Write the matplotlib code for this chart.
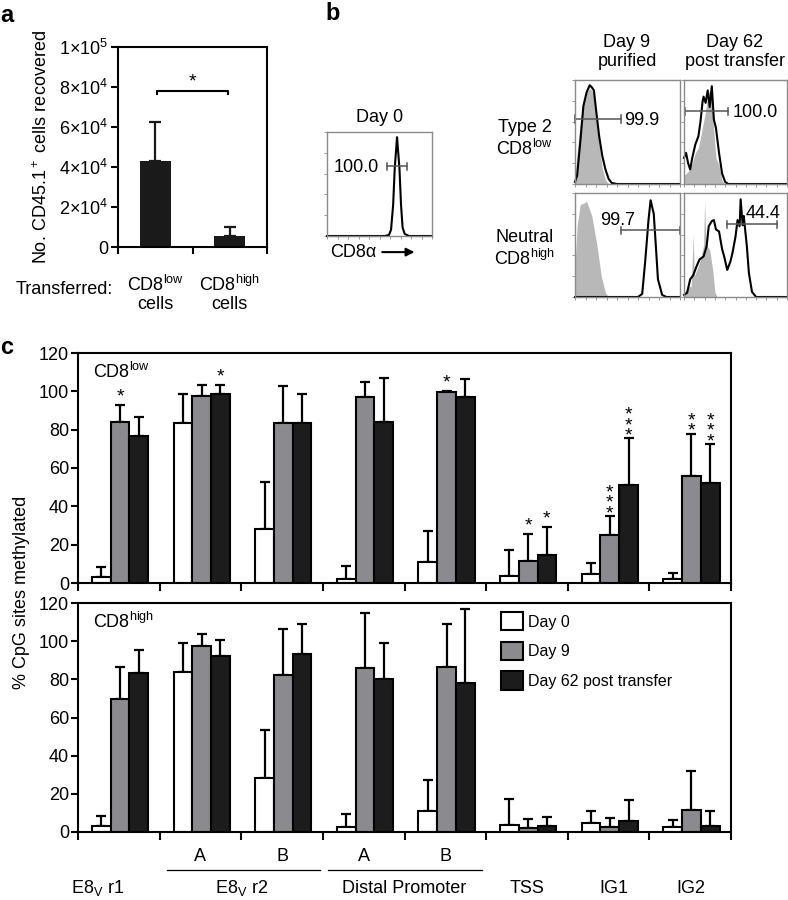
import numpy as np
import matplotlib
matplotlib.use('Agg')
import matplotlib.pyplot as plt

plt.rcParams['font.family'] = ['Liberation Sans', 'DejaVu Sans']
plt.rcParams['mathtext.default'] = 'regular'
plt.rcParams['font.size'] = 12.5

W, H = 788, 900

# ---- panel a data ----
transferred = ['CD8$^{low}$\ncells', 'CD8$^{high}$\ncells']
recovered = [43000, 5500]
recovered_sd = [19500, 4500]
a_ticks = [0, 2e4, 4e4, 6e4, 8e4, 1e5]
a_ticklabels = ['0', '2×10$^4$', '4×10$^4$', '6×10$^4$', '8×10$^4$', '1×10$^5$']

# ---- panel b data (fraction of max events vs CD8a fluorescence, log scale 0-1) ----
day0_x = [0.0, 0.55, 0.59, 0.61, 0.63, 0.645, 0.667, 0.69, 0.705, 0.72, 0.74, 0.78, 1.0]
day0_y = [0.0, 0.0, 0.01, 0.06, 0.3, 0.65, 0.95, 0.65, 0.3, 0.08, 0.02, 0.0, 0.0]

d9low_x = [0, 0.02, 0.05, 0.08, 0.11, 0.14, 0.16, 0.18, 0.2, 0.23, 0.26, 0.29, 0.32, 0.35, 0.4, 1.0]
d9low_black = [0.02, 0.08, 0.4, 0.75, 0.88, 0.95, 0.93, 0.9, 0.72, 0.46, 0.27, 0.14, 0.05, 0.01, 0, 0]
d9low_grey = [0.05, 0.3, 0.6, 0.8, 0.88, 0.92, 0.9, 0.85, 0.65, 0.38, 0.15, 0.04, 0, 0, 0, 0]

d62low_x = [0, 0.02, 0.04, 0.06, 0.08, 0.11, 0.14, 0.16, 0.18, 0.19, 0.21, 0.23, 0.25, 0.27,
            0.29, 0.31, 0.34, 0.37, 0.4, 0.43, 1.0]
d62low_black = [0.25, 0.3, 0.2, 0.14, 0.25, 0.38, 0.46, 0.6, 0.79, 0.84, 0.78, 0.9, 0.74, 0.94,
                0.62, 0.54, 0.3, 0.1, 0.02, 0, 0]
d62low_grey = [0.08, 0.1, 0.12, 0.15, 0.2, 0.3, 0.35, 0.45, 0.55, 0.6, 0.7, 0.85, 0.9, 0.8,
               0.5, 0.25, 0.18, 0.03, 0, 0, 0]

d9high_x = [0, 0.02, 0.05, 0.08, 0.11, 0.16, 0.21, 0.25, 0.29, 0.32, 0.6, 0.64, 0.67, 0.7,
            0.72, 0.75, 0.77, 0.79, 0.83, 0.87, 1.0]
d9high_grey = [0.3, 0.68, 0.89, 0.9, 0.92, 0.78, 0.49, 0.2, 0.04, 0, 0, 0, 0, 0,
               0, 0, 0, 0, 0, 0, 0]
d9high_black = [0, 0, 0, 0, 0, 0, 0, 0, 0, 0, 0, 0.03, 0.36, 0.74,
                0.93, 0.8, 0.49, 0.17, 0.02, 0, 0]

d62high_bx = [0, 0.03, 0.06, 0.09, 0.12, 0.15, 0.19, 0.22, 0.24, 0.27, 0.29, 0.31, 0.34, 0.37,
              0.39, 0.42, 0.45, 0.47, 0.5, 0.52, 0.54, 0.55, 0.57, 0.58, 0.61, 0.63, 0.66, 0.7, 1.0]
d62high_black = [0.02, 0.04, 0.17, 0.21, 0.29, 0.36, 0.39, 0.49, 0.68, 0.73, 0.74, 0.65, 0.63, 0.46,
                 0.39, 0.26, 0.34, 0.42, 0.58, 0.74, 0.68, 0.94, 0.69, 0.78, 0.49, 0.23, 0.05, 0, 0]
d62high_gx = [0, 0.03, 0.07, 0.09, 0.1, 0.14, 0.17, 0.19, 0.2, 0.21, 0.22, 0.25, 0.28, 0.3, 0.32, 1.0]
d62high_grey = [0.02, 0.1, 0.1, 0.6, 0.2, 0.3, 0.4, 0.5, 0.92, 0.6, 0.5, 0.45, 0.25, 0.05, 0, 0]

# ---- panel c data ----
regions = ['E8$_V$ r1', 'A', 'B', 'A', 'B', 'TSS', 'IG1', 'IG2']
days = ['Day 0', 'Day 9', 'Day 62 post transfer']
low_mean = [[3.3, 83.3, 28.0, 1.9, 11.1, 3.7, 4.7, 1.9],
            [84.0, 97.7, 83.3, 97.2, 99.8, 11.7, 25.0, 55.8],
            [76.7, 98.4, 83.3, 84.0, 97.2, 14.6, 51.1, 52.0]]
low_sd = [[4.9, 15.3, 24.9, 7.1, 16.2, 13.5, 5.9, 3.5],
          [8.7, 5.6, 19.5, 7.8, 0.5, 13.9, 10.0, 22.2],
          [10.1, 4.9, 15.1, 22.8, 9.2, 14.8, 24.4, 20.5]]
high_mean = [[3.1, 84.0, 28.1, 2.4, 11.2, 3.7, 4.9, 2.4],
             [69.5, 97.6, 82.3, 85.8, 86.3, 1.9, 2.4, 11.5],
             [83.2, 92.2, 93.1, 80.0, 78.3, 3.1, 5.9, 3.1]]
high_sd = [[5.3, 15.3, 25.4, 7.0, 16.1, 13.4, 6.1, 3.9],
           [16.8, 6.4, 23.9, 29.2, 22.5, 4.9, 4.8, 20.5],
           [12.2, 8.4, 15.9, 18.9, 38.4, 4.9, 10.9, 7.9]]
# (region, series, number of stars)
low_stars = [(0, 1, 1), (1, 2, 1), (4, 1, 1), (5, 1, 1), (5, 2, 1),
             (6, 1, 3), (6, 2, 3), (7, 1, 2), (7, 2, 3)]

bar_colors = ['white', '#8b8b8f', '#1c1c1c']
offsets = [-0.215, 0.015, 0.245]
bar_w = 0.23

fig = plt.figure(figsize=(W / 100, H / 100), dpi=100)


def axbox(x0, y0, x1, y1):
    return fig.add_axes([x0 / W, 1 - y1 / H, (x1 - x0) / W, (y1 - y0) / H])


def ftext(x, y, s, **kw):
    return fig.text(x / W, 1 - y / H, s, **kw)


# ================= panel a =================
ax = axbox(118, 47, 267, 247)
xa = np.arange(len(recovered))
ax.bar(xa, recovered, width=0.42, color='#1a1a1a', zorder=2)
ax.errorbar(xa, recovered, yerr=[[0, 0], recovered_sd], fmt='none', ecolor='#1a1a1a',
            elinewidth=1.6, capsize=4.3, capthick=1.6, zorder=1)
ax.set_xlim(-0.5, 1.5)
ax.set_ylim(0, 1e5)
ax.set_yticks(a_ticks)
ax.set_yticklabels(a_ticklabels, fontsize=13)
ax.set_xticks(xa)
ax.set_xticklabels(transferred, fontsize=13, linespacing=1.05)
ax.set_xticks([-0.5, 0.5, 1.5], minor=True)
ax.tick_params(axis='x', which='major', length=0, pad=20)
ax.tick_params(axis='x', which='minor', length=5, width=1.5)
ax.tick_params(axis='y', length=5, width=1.5, pad=2)
for s in ax.spines.values():
    s.set_linewidth(1.5)
ax.set_ylabel('No. CD45.1$^+$ cells recovered', fontsize=13, labelpad=6)
ax.plot([0.02, 0.02, 0.98, 0.98], [76500, 78000, 78000, 76500], color='k', lw=1.5)
ax.text(0.5, 78500, '*', ha='center', va='bottom', fontsize=14)
ftext(113, 290, 'Transferred:', ha='right', va='center', fontsize=13)
ftext(7, 15, 'a', ha='center', va='center', fontsize=17, fontweight='bold')

# ================= panel b =================
ftext(333, 13, 'b', ha='center', va='center', fontsize=17, fontweight='bold')


def flow_axes(x0, y0, x1, y1):
    fa = axbox(x0, y0, x1, y1)
    fa.set_xlim(0, 1)
    fa.set_ylim(0, 1)
    for s in fa.spines.values():
        s.set_color('#8a8a8a')
        s.set_linewidth(1.0)
    fa.set_xticks(np.arange(0, 1.01, 0.1))
    fa.set_yticks(np.arange(0, 1.01, 0.2))
    fa.tick_params(length=2, width=0.6, color='#8a8a8a', labelleft=False, labelbottom=False)
    return fa


def gate(fa, x0, x1, y, label, tx, ty, ha='left'):
    fa.plot([x0, x1], [y, y], color='#555555', lw=1.1, clip_on=False)
    fa.plot([x0, x0], [y - 0.035, y + 0.035], color='#555555', lw=1.1, clip_on=False)
    fa.plot([x1, x1], [y - 0.035, y + 0.035], color='#555555', lw=1.1, clip_on=False)
    fa.text(tx, ty, label, ha=ha, va='center', fontsize=13)


f0 = flow_axes(327, 132, 432, 236)
f0.plot(day0_x, day0_y, color='k', lw=1.5, clip_on=False)
gate(f0, 0.57, 0.76, 0.67, '100.0', 0.49, 0.66, ha='right')
f0.set_title('Day 0', fontsize=13, pad=7)
f0.text(0.03, -0.155, 'CD8α', ha='left', va='center', fontsize=13, transform=f0.transAxes)
f0.annotate('', xy=(0.86, -0.155), xytext=(0.50, -0.155), xycoords='axes fraction',
            arrowprops=dict(arrowstyle='-|>', lw=1.5, color='k', mutation_scale=12),
            annotation_clip=False)

f1 = flow_axes(575, 80, 680, 184)
f1.fill_between(d9low_x, d9low_grey, color='#b8b8b8', lw=0)
f1.plot(d9low_x, d9low_black, color='k', lw=1.5, clip_on=False)
gate(f1, 0.0, 0.44, 0.625, '99.9', 0.47, 0.61)

f2 = flow_axes(684, 80, 787, 184)
f2.fill_between(d62low_x, d62low_grey, color='#b8b8b8', lw=0)
f2.plot(d62low_x, d62low_black, color='k', lw=1.5, clip_on=False)
gate(f2, 0.01, 0.43, 0.70, '100.0', 0.47, 0.69)

f3 = flow_axes(575, 193, 680, 297)
f3.fill_between(d9high_x, d9high_grey, color='#b8b8b8', lw=0)
f3.plot(d9high_x, d9high_black, color='k', lw=1.5, clip_on=False)
gate(f3, 0.44, 1.0, 0.64, '99.7', 0.24, 0.74)

f4 = flow_axes(684, 193, 787, 297)
f4.fill_between(d62high_gx, d62high_grey, color='#b8b8b8', lw=0)
f4.plot(d62high_bx, d62high_black, color='k', lw=1.5, clip_on=False)
gate(f4, 0.42, 0.90, 0.70, '44.4', 0.60, 0.80)

ftext(627, 52, 'Day 9\npurified', ha='center', va='center', fontsize=13, linespacing=1.2)
ftext(735, 52, 'Day 62\npost transfer', ha='center', va='center', fontsize=13, linespacing=1.2)
ftext(525, 139, 'Type 2\nCD8$^{low}$', ha='center', va='center', fontsize=13, linespacing=1.15)
ftext(525, 249, 'Neutral\nCD8$^{high}$', ha='center', va='center', fontsize=13, linespacing=1.15)

# ================= panel c =================
ftext(7, 348, 'c', ha='center', va='center', fontsize=17, fontweight='bold')
xc = np.arange(len(regions))


def methyl_axes(y0, y1, means, sds, label):
    cax = axbox(78, y0, 731, y1)
    for k in range(3):
        xs = xc + offsets[k]
        cax.bar(xs, means[k], width=bar_w, color=bar_colors[k], edgecolor='black',
                linewidth=1.5, zorder=2, label=days[k])
        cax.errorbar(xs, means[k], yerr=[np.zeros(len(xs)), sds[k]], fmt='none',
                     ecolor='black', elinewidth=1.6, capsize=3.6, capthick=1.6, zorder=1)
    cax.set_xlim(-0.5, 7.5)
    cax.set_ylim(0, 120)
    cax.set_yticks(np.arange(0, 121, 20))
    cax.set_xticks(np.arange(-0.5, 7.6, 1))
    cax.set_xticklabels([])
    cax.tick_params(axis='x', length=6, width=1.5)
    cax.tick_params(axis='y', length=5, width=1.5, pad=1.5, labelsize=13)
    for s in cax.spines.values():
        s.set_linewidth(1.5)
    cax.text(0.023, 0.917, label, transform=cax.transAxes, ha='left', va='center', fontsize=13)
    return cax


c1 = methyl_axes(353, 583, low_mean, low_sd, 'CD8$^{low}$')
for g, k, n in low_stars:
    top = low_mean[k][g] + low_sd[k][g]
    x = g + offsets[k]
    if n == 1:
        c1.annotate('*', (x, top), xytext=(0, 2.5), textcoords='offset points',
                    ha='center', va='baseline', fontsize=14)
    else:
        c1.annotate('\n'.join(['*'] * n), (x, top), xytext=(0, -1.5), textcoords='offset points',
                    ha='center', va='baseline', fontsize=14, linespacing=0.48)

c2 = methyl_axes(603, 832, high_mean, high_sd, 'CD8$^{high}$')
c2.legend(loc='upper left', bbox_to_anchor=(501 / W, 1 - 612 / H), bbox_transform=fig.transFigure,
          frameon=False, fontsize=11.5, handlelength=1.4, handleheight=1.4, handletextpad=0.3,
          labelspacing=0.7, borderpad=0, borderaxespad=0)

# region labels below lower axis
tr = c2.get_xaxis_transform()
for g in [1, 2, 3, 4]:
    c2.text(g, -0.109, regions[g], transform=tr, ha='center', va='center', fontsize=13)
c2.plot([0.59, 2.47], [-0.166, -0.166], transform=tr, color='k', lw=0.9, clip_on=False)
c2.plot([2.56, 4.45], [-0.166, -0.166], transform=tr, color='k', lw=0.9, clip_on=False)
group_names = ['E8$_V$ r1', 'E8$_V$ r2', 'Distal Promoter', 'TSS', 'IG1', 'IG2']
group_pos = [-0.255, 1.5, 3.5, 5.0, 6.07, 7.01]
for name, gx in zip(group_names, group_pos):
    c2.text(gx, -0.245, name, transform=tr, ha='center', va='center', fontsize=13)

ftext(22, 592, '% CpG sites methylated', rotation=90, ha='center', va='center', fontsize=13)

fig.savefig('out.png', dpi=100)
